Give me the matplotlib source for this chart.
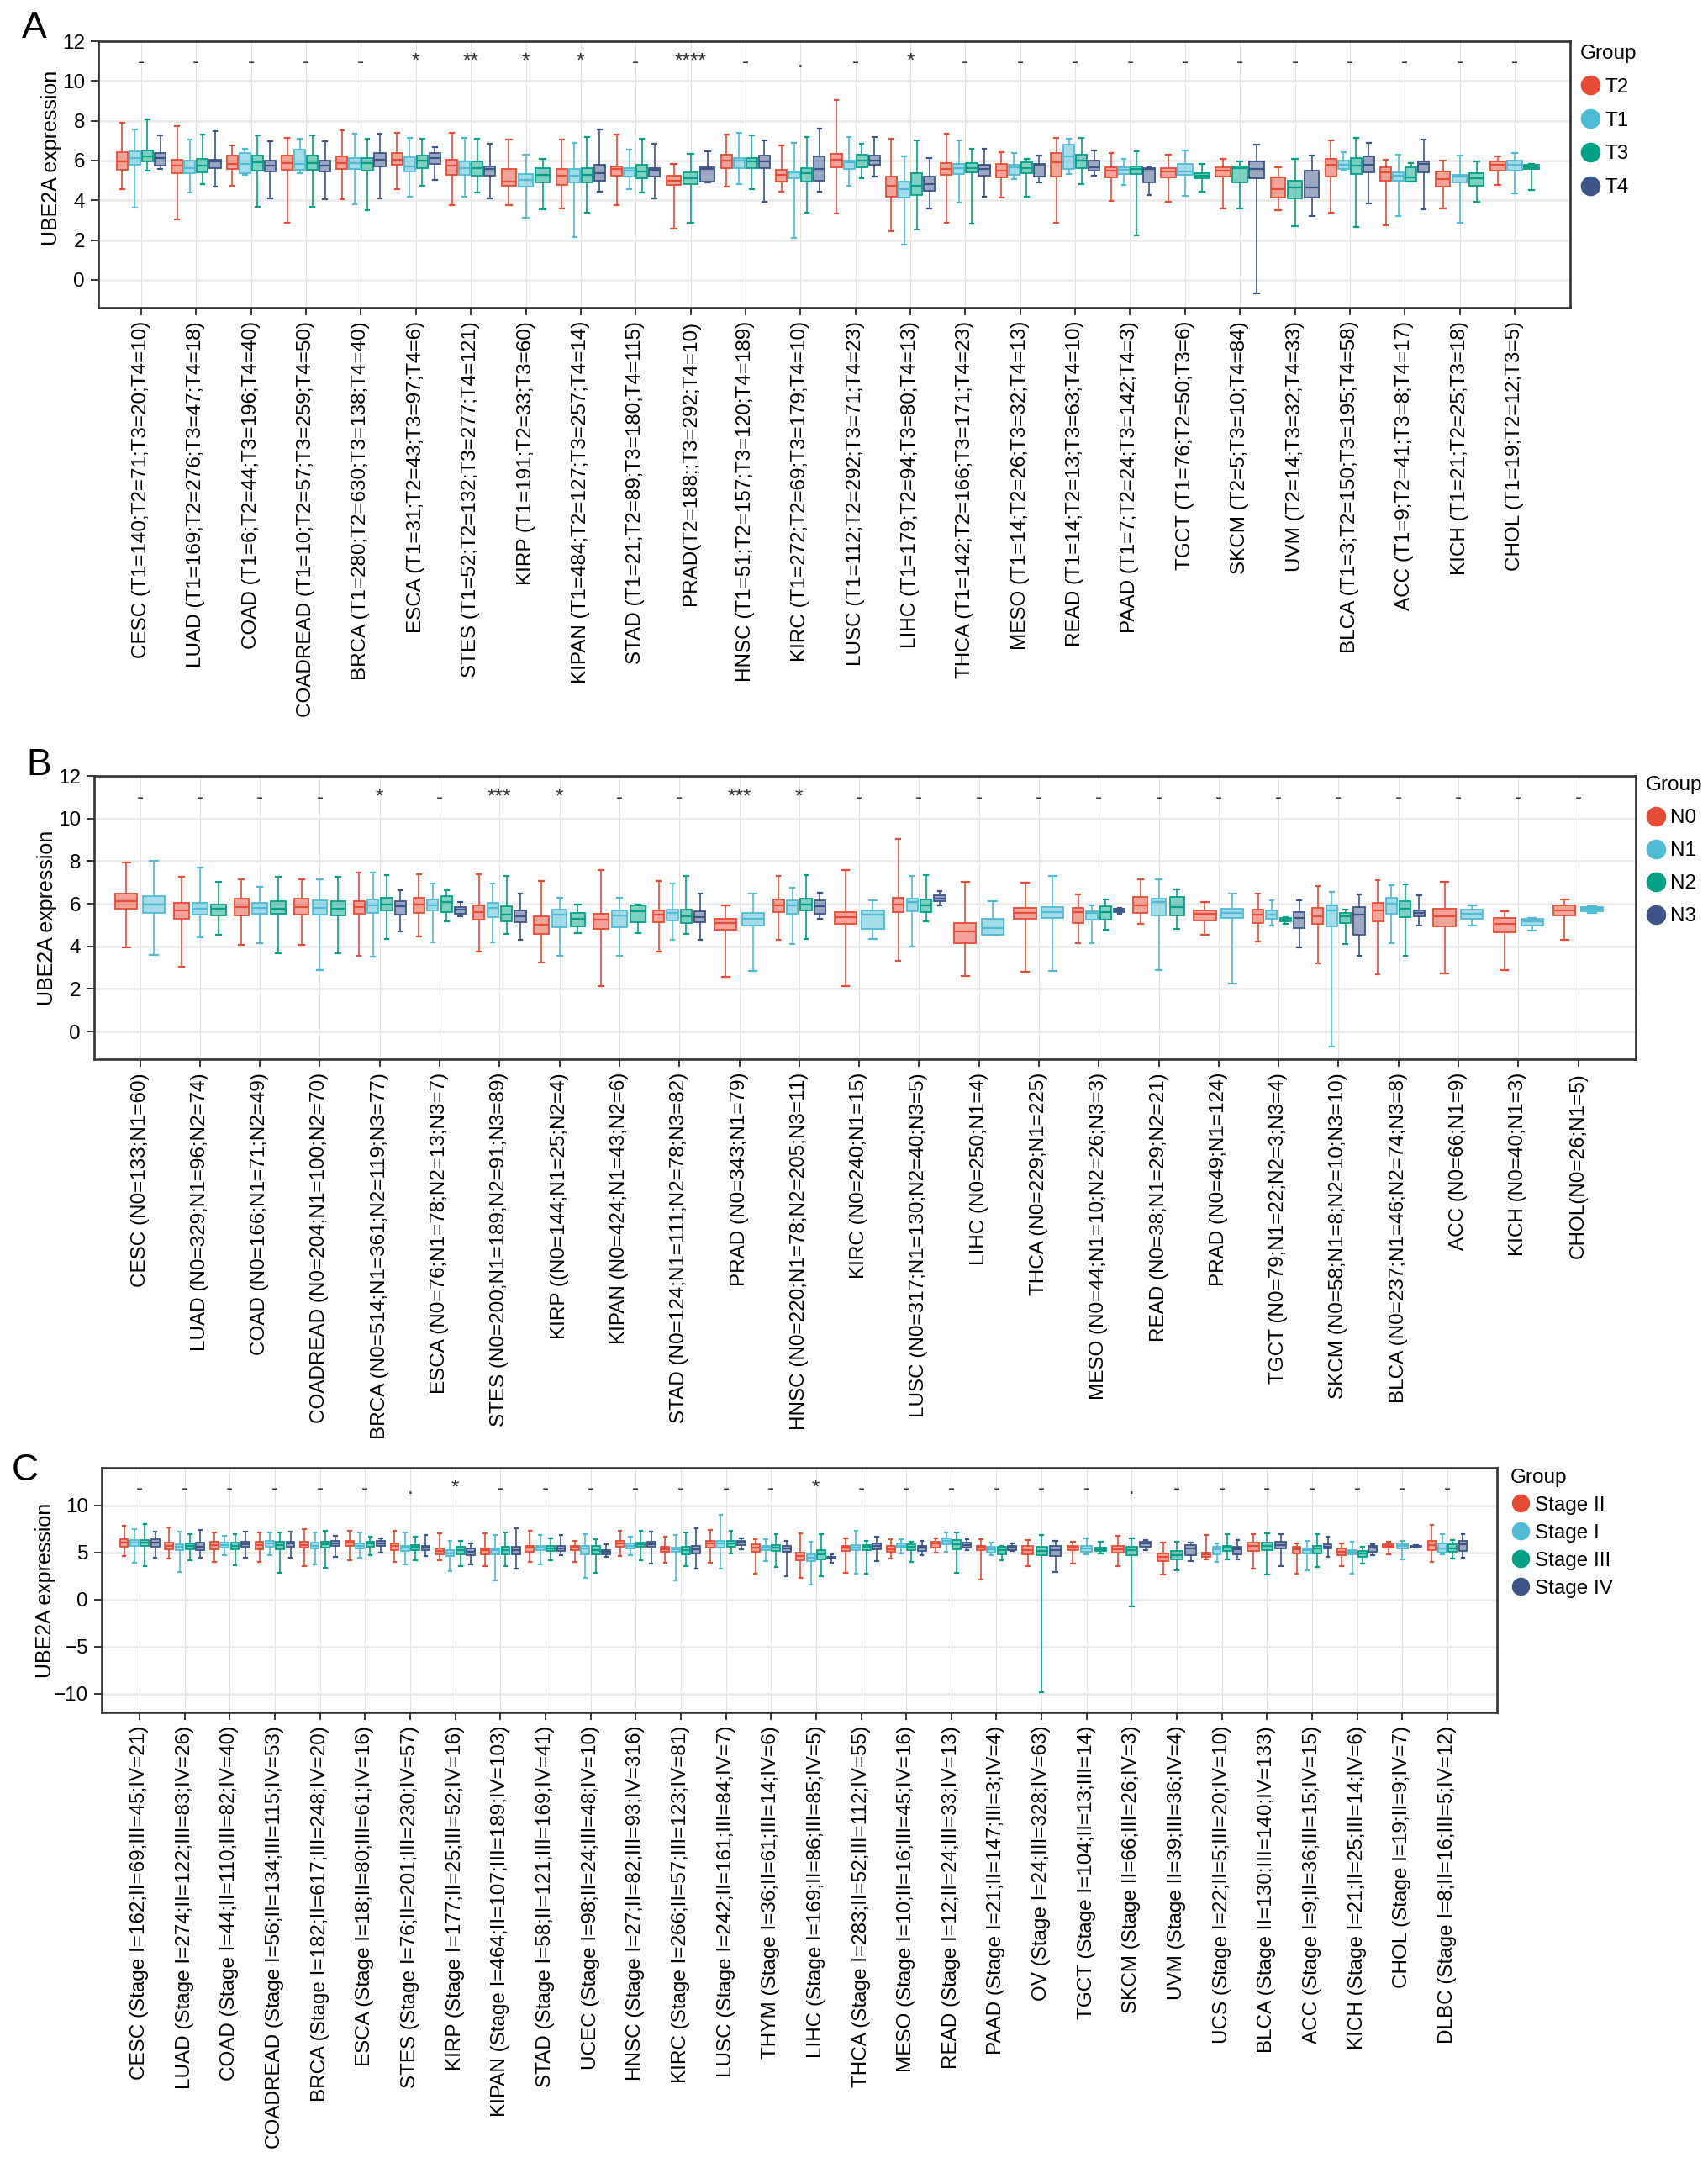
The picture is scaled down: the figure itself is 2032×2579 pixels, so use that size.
import matplotlib
matplotlib.use("Agg")
import matplotlib.pyplot as plt
from matplotlib.lines import Line2D
from matplotlib.colors import to_rgba

plt.rcParams['font.family'] = ['Liberation Sans', 'DejaVu Sans']

W, H = 2032, 2579
RED, LBLUE, GREEN, NAVY = "#E64B35", "#4DBBD5", "#00A087", "#3C5488"

# ---------------- panel A : T stage ----------------
a_labels = ["CESC (T1=140;T2=71;T3=20;T4=10)", "LUAD (T1=169;T2=276;T3=47;T4=18)",
            "COAD (T1=6;T2=44;T3=196;T4=40)", "COADREAD (T1=10;T2=57;T3=259;T4=50)",
            "BRCA (T1=280;T2=630;T3=138;T4=40)", "ESCA (T1=31;T2=43;T3=97;T4=6)",
            "STES (T1=52;T2=132;T3=277;T4=121)", "KIRP (T1=191;T2=33;T3=60)",
            "KIPAN (T1=484;T2=127;T3=257;T4=14)", "STAD (T1=21;T2=89;T3=180;T4=115)",
            "PRAD(T2=188;;T3=292;T4=10)", "HNSC (T1=51;T2=157;T3=120;T4=189)",
            "KIRC (T1=272;T2=69;T3=179;T4=10)", "LUSC (T1=112;T2=292;T3=71;T4=23)",
            "LIHC (T1=179;T2=94;T3=80;T4=13)", "THCA (T1=142;T2=166;T3=171;T4=23)",
            "MESO (T1=14;T2=26;T3=32;T4=13)", "READ (T1=14;T2=13;T3=63;T4=10)",
            "PAAD (T1=7;T2=24;T3=142;T4=3)", "TGCT (T1=76;T2=50;T3=6)",
            "SKCM (T2=5;T3=10;T4=84)", "UVM (T2=14;T3=32;T4=33)",
            "BLCA (T1=3;T2=150;T3=195;T4=58)", "ACC (T1=9;T2=41;T3=8;T4=17)",
            "KICH (T1=21;T2=25;T3=18)", "CHOL (T1=19;T2=12;T3=5)"]
a_order = ["T2", "T1", "T3", "T4"]
a_groups = [a_order] * 7 + [["T2", "T1", "T3"], a_order, a_order, ["T2", "T3", "T4"]] + [a_order] * 8 + \
           [["T2", "T1", "T3"], ["T2", "T3", "T4"], ["T2", "T3", "T4"], a_order, a_order,
            ["T2", "T1", "T3"], ["T2", "T1", "T3"]]
a_sig = ["-", "-", "-", "-", "-", "*", "**", "*", "*", "-", "****", "-", ".",
         "-", "*", "-", "-", "-", "-", "-", "-", "-", "-", "-", "-", "-"]
a_hi = [[7.92, 7.57, 8.05, 7.26], [7.71, 7.06, 7.29, 7.46], [6.75, 6.57, 7.27, 6.99], [7.15, 7.08, 7.27, 6.99],
        [7.50, 7.36, 7.10, 7.36], [7.39, 7.13, 7.10, 6.68], [7.39, 7.13, 7.10, 6.85], [7.06, 6.29, 6.08],
        [7.06, 6.87, 7.17, 7.57], [7.32, 6.54, 7.10, 6.85], [5.84, 6.33, 6.47], [7.32, 7.39, 7.27, 7.01],
        [6.75, 6.87, 7.17, 7.60], [9.05, 7.20, 6.85, 7.17], [7.08, 6.19, 7.01, 6.12], [7.34, 7.03, 6.61, 6.61],
        [6.43, 6.39, 6.08, 6.26], [7.15, 7.09, 7.15, 6.50], [6.39, 6.08, 6.47, 5.67], [6.29, 6.51, 5.81],
        [6.09, 5.94, 6.82], [5.66, 6.09, 6.23], [7.01, 6.40, 7.13, 6.87], [6.05, 6.29, 5.88, 7.06],
        [5.98, 6.26, 5.94], [6.19, 6.36, 5.84]]
a_q3 = [[6.40, 6.47, 6.51, 6.36], [6.02, 5.98, 6.09, 6.02], [6.23, 6.36, 6.23, 5.98], [6.26, 6.54, 6.23, 5.98],
        [6.19, 6.12, 6.12, 6.36], [6.37, 6.15, 6.23, 6.36], [6.05, 5.95, 5.95, 5.70], [5.56, 5.32, 5.60],
        [5.56, 5.56, 5.63, 5.77], [5.70, 5.60, 5.77, 5.63], [5.23, 5.39, 5.67], [6.29, 6.12, 6.12, 6.23],
        [5.53, 5.46, 5.63, 6.22], [6.33, 5.98, 6.29, 6.26], [5.21, 4.95, 5.35, 5.18], [5.87, 5.84, 5.87, 5.77],
        [5.84, 5.80, 5.91, 5.81], [6.36, 6.82, 6.30, 5.98], [5.66, 5.67, 5.70, 5.63], [5.60, 5.81, 5.35],
        [5.66, 5.70, 5.94], [5.16, 4.99, 5.51], [6.09, 5.98, 6.12, 6.19], [5.67, 5.39, 5.67, 5.95],
        [5.46, 5.28, 5.35], [5.94, 5.98, 5.77]]
a_med = [[5.94, 6.12, 6.19, 6.12], [5.73, 5.63, 5.74, 5.95], [5.84, 5.84, 5.91, 5.73], [5.88, 5.84, 5.88, 5.73],
         [5.88, 5.88, 5.88, 6.05], [6.05, 5.70, 5.98, 6.12], [5.73, 5.63, 5.63, 5.56], [4.92, 5.04, 5.30],
         [5.23, 5.23, 5.30, 5.37], [5.56, 5.49, 5.46, 5.54], [4.99, 5.11, 5.56], [5.98, 5.98, 5.94, 5.94],
         [5.30, 5.39, 5.35, 5.56], [6.02, 5.91, 6.01, 5.98], [4.71, 4.57, 4.74, 4.81], [5.59, 5.60, 5.63, 5.56],
         [5.51, 5.67, 5.63, 5.77], [5.91, 6.19, 5.98, 5.66], [5.49, 5.53, 5.56, 5.56], [5.46, 5.46, 5.23],
         [5.49, 5.63, 5.56], [4.57, 4.64, 4.64], [5.80, 5.77, 5.73, 5.80], [5.39, 5.23, 5.16, 5.84],
         [5.06, 5.18, 5.11], [5.77, 5.80, 5.67]]
a_q1 = [[5.53, 5.80, 5.95, 5.73], [5.37, 5.35, 5.39, 5.63], [5.56, 5.35, 5.49, 5.44], [5.53, 5.53, 5.53, 5.44],
        [5.56, 5.59, 5.51, 5.70], [5.80, 5.46, 5.63, 5.84], [5.30, 5.30, 5.23, 5.23], [4.71, 4.67, 4.90],
        [4.78, 4.88, 4.90, 4.99], [5.23, 5.18, 5.12, 5.21], [4.76, 4.81, 4.92], [5.63, 5.63, 5.63, 5.63],
        [4.92, 5.11, 4.92, 4.99], [5.66, 5.56, 5.66, 5.77], [4.19, 4.14, 4.25, 4.46], [5.28, 5.32, 5.39, 5.23],
        [5.14, 5.30, 5.37, 5.18], [5.21, 5.56, 5.60, 5.49], [5.14, 5.32, 5.32, 4.90], [5.16, 5.28, 5.11],
        [5.18, 4.88, 5.09], [4.12, 4.08, 4.15], [5.18, 5.56, 5.32, 5.39], [4.99, 4.99, 4.95, 5.39],
        [4.67, 4.90, 4.71], [5.51, 5.51, 5.56]]
a_lo = [[4.56, 3.64, 5.49, 5.56], [3.05, 4.39, 4.81, 4.67], [4.71, 5.28, 3.66, 4.08], [2.88, 5.35, 3.66, 4.05],
        [4.05, 3.80, 3.52, 4.08], [4.57, 4.18, 4.71, 5.04], [3.77, 4.19, 4.39, 4.08], [3.77, 3.12, 3.55],
        [3.59, 2.14, 3.38, 4.43], [3.77, 4.57, 4.39, 4.08], [2.56, 2.86, 4.88], [4.67, 4.81, 4.56, 3.91],
        [4.42, 2.11, 3.38, 4.43], [3.35, 4.71, 5.11, 5.21], [2.46, 1.76, 2.53, 3.59], [2.86, 3.87, 2.81, 4.18],
        [4.15, 5.06, 4.18, 4.90], [2.88, 5.32, 4.81, 5.23], [3.97, 4.78, 2.25, 4.26], [3.94, 4.22, 4.43],
        [3.59, 3.59, -0.70], [3.52, 2.70, 3.19], [3.38, 5.49, 2.67, 3.83], [2.74, 3.19, 4.92, 3.56],
        [3.59, 2.88, 3.94], [4.78, 4.33, 4.53]]

# ---------------- panel B : N stage ----------------
b_labels = ["CESC (N0=133;N1=60)", "LUAD (N0=329;N1=96;N2=74)", "COAD (N0=166;N1=71;N2=49)",
            "COADREAD (N0=204;N1=100;N2=70)", "BRCA (N0=514;N1=361;N2=119;N3=77)",
            "ESCA (N0=76;N1=78;N2=13;N3=7)", "STES (N0=200;N1=189;N2=91;N3=89)",
            "KIRP ((N0=144;N1=25;N2=4)", "KIPAN (N0=424;N1=43;N2=6)",
            "STAD (N0=124;N1=111;N2=78;N3=82)", "PRAD (N0=343;N1=79)",
            "HNSC (N0=220;N1=78;N2=205;N3=11)", "KIRC (N0=240;N1=15)",
            "LUSC (N0=317;N1=130;N2=40;N3=5)", "LIHC (N0=250;N1=4)", "THCA (N0=229;N1=225)",
            "MESO (N0=44;N1=10;N2=26;N3=3)", "READ (N0=38;N1=29;N2=21)", "PRAD (N0=49;N1=124)",
            "TGCT (N0=79;N1=22;N2=3;N3=4)", "SKCM (N0=58;N1=8;N2=10;N3=10)",
            "BLCA (N0=237;N1=46;N2=74;N3=8)", "ACC (N0=66;N1=9)", "KICH (N0=40;N1=3)",
            "CHOL(N0=26;N1=5)"]
b_order = ["N0", "N1", "N2", "N3"]
b_groups = [b_order[:2], b_order[:3], b_order[:3], b_order[:3], b_order, b_order, b_order,
            b_order[:3], b_order[:3], b_order, b_order[:2], b_order, b_order[:2], b_order,
            b_order[:2], b_order[:2], b_order, b_order[:3], b_order[:2], b_order, b_order,
            b_order, b_order[:2], b_order[:2], b_order[:2]]
b_sig = ["-", "-", "-", "-", "*", "-", "***", "*", "-", "-", "***", "*", "-",
         "-", "-", "-", "-", "-", "-", "-", "-", "-", "-", "-", "-"]
b_hi = [[7.92, 8.01], [7.28, 7.69, 7.02], [7.15, 6.80, 7.26], [7.15, 7.13, 7.26], [7.48, 7.48, 7.35, 6.64],
        [7.39, 6.95, 6.63, 6.07], [7.39, 6.95, 7.32, 6.47], [7.06, 6.27, 5.98], [7.59, 6.27, 5.98],
        [7.06, 6.93, 7.32, 6.47], [5.94, 6.47], [7.30, 6.76, 7.35, 6.51], [7.59, 6.14],
        [9.04, 7.32, 7.35, 6.60], [7.03, 6.10], [6.99, 7.32], [6.43, 5.94, 6.20, 5.81], [7.13, 7.13, 6.69],
        [6.07, 6.47], [6.49, 6.16, 5.37, 6.14], [6.82, 6.57, 5.74, 6.44], [7.10, 6.86, 6.89, 6.38],
        [7.02, 5.94], [5.65, 5.32], [6.20, 5.87]]
b_q3 = [[6.49, 6.36], [6.05, 6.05, 5.98], [6.24, 6.05, 6.11], [6.24, 6.16, 6.11], [6.11, 6.20, 6.27, 6.11],
        [6.27, 6.20, 6.34, 5.84], [5.91, 6.03, 5.87, 5.68], [5.41, 5.72, 5.58], [5.52, 5.70, 5.94],
        [5.70, 5.72, 5.74, 5.64], [5.28, 5.55], [6.18, 6.16, 6.23, 6.14], [5.61, 5.68],
        [6.27, 6.24, 6.20, 6.38], [5.11, 5.28], [5.81, 5.84], [5.81, 5.65, 5.87, 5.77], [6.31, 6.24, 6.30],
        [5.68, 5.77], [5.72, 5.68, 5.35, 5.61], [5.81, 5.91, 5.58, 5.84], [6.05, 6.27, 6.11, 5.70],
        [5.77, 5.74], [5.35, 5.31], [5.94, 5.85]]
b_med = [[6.12, 5.97], [5.68, 5.78, 5.77], [5.84, 5.81, 5.77], [5.85, 5.81, 5.77], [5.84, 5.94, 5.98, 5.90],
         [5.97, 5.94, 6.07, 5.74], [5.61, 5.81, 5.48, 5.41], [5.02, 5.48, 5.28], [5.26, 5.45, 5.64],
         [5.48, 5.55, 5.41, 5.37], [5.08, 5.28], [5.91, 5.94, 5.97, 5.87], [5.37, 5.48],
         [5.97, 6.07, 5.94, 6.24], [4.69, 4.85], [5.57, 5.61], [5.61, 5.55, 5.61, 5.70], [5.94, 6.07, 5.84],
         [5.51, 5.55], [5.48, 5.48, 5.28, 5.35], [5.41, 5.68, 5.41, 5.48], [5.68, 6.01, 5.77, 5.57],
         [5.39, 5.52], [5.04, 5.18], [5.70, 5.77]]
b_q1 = [[5.78, 5.57], [5.31, 5.48, 5.44], [5.44, 5.52, 5.51], [5.48, 5.48, 5.44], [5.52, 5.57, 5.68, 5.48],
        [5.57, 5.68, 5.61, 5.52], [5.26, 5.37, 5.18, 5.15], [4.60, 4.91, 4.95], [4.82, 4.91, 5.15],
        [5.15, 5.22, 5.08, 5.15], [4.78, 4.99], [5.61, 5.52, 5.68, 5.52], [5.04, 4.82],
        [5.61, 5.64, 5.61, 6.11], [4.16, 4.56], [5.31, 5.35], [5.11, 5.24, 5.24, 5.61], [5.57, 5.44, 5.44],
        [5.22, 5.35], [5.11, 5.31, 5.18, 4.85], [5.06, 4.93, 5.08, 4.53], [5.19, 5.52, 5.37, 5.41],
        [4.93, 5.28], [4.65, 4.99], [5.45, 5.64]]
b_lo = [[3.94, 3.61], [3.04, 4.43, 4.53], [4.06, 4.16, 3.66], [4.06, 2.88, 3.66], [3.57, 3.50, 4.33, 4.69],
        [4.47, 4.19, 5.19, 5.39], [3.77, 4.19, 4.60, 4.29], [3.24, 3.54, 4.62], [2.12, 3.54, 4.62],
        [3.77, 4.29, 4.60, 4.29], [2.58, 2.85], [4.29, 4.12, 4.33, 5.31], [2.12, 4.33],
        [3.33, 4.00, 5.19, 5.94], [2.61, 4.53], [2.81, 2.85], [4.16, 4.14, 4.79, 5.52], [5.04, 2.87, 4.82],
        [4.53, 2.25], [4.23, 4.98, 5.04, 3.93], [3.20, -0.71, 4.10, 3.57], [2.69, 4.14, 3.57, 4.99],
        [2.74, 4.98], [2.88, 4.72], [4.32, 5.58]]

# ---------------- panel C : pathologic stage ----------------
c_labels = ["CESC (Stage I=162;II=69;III=45;IV=21)", "LUAD (Stage I=274;II=122;III=83;IV=26)",
            "COAD (Stage I=44;II=110;III=82;IV=40)", "COADREAD (Stage I=56;II=134;III=115;IV=53)",
            "BRCA (Stage I=182;II=617;III=248;IV=20)", "ESCA (Stage I=18;II=80;III=61;IV=16)",
            "STES (Stage I=76;II=201;III=230;IV=57)", "KIRP (Stage I=177;II=25;III=52;IV=16)",
            "KIPAN (Stage I=464;II=107;III=189;IV=103)", "STAD (Stage I=58;II=121;III=169;IV=41)",
            "UCEC (Stage I=98;II=24;III=48;IV=10)", "HNSC (Stage I=27;II=82;III=93;IV=316)",
            "KIRC (Stage I=266;II=57;III=123;IV=81)", "LUSC (Stage I=242;II=161;III=84;IV=7)",
            "THYM (Stage I=36;II=61;III=14;IV=6)", "LIHC (Stage I=169;II=86;III=85;IV=5)",
            "THCA (Stage I=283;II=52;III=112;IV=55)", "MESO (Stage I=10;II=16;III=45;IV=16)",
            "READ (Stage I=12;II=24;III=33;IV=13)", "PAAD (Stage I=21;II=147;III=3;IV=4)",
            "OV (Stage I=24;III=328;IV=63)", "TGCT (Stage I=104;II=13;III=14)",
            "SKCM (Stage II=66;III=26;IV=3)", "UVM (Stage II=39;III=36;IV=4)",
            "UCS (Stage I=22;II=5;III=20;IV=10)", "BLCA (Stage II=130;III=140;IV=133)",
            "ACC (Stage I=9;II=36;III=15;IV=15)", "KICH (Stage I=21;II=25;III=14;IV=6)",
            "CHOL (Stage I=19;II=9;IV=7)", "DLBC (Stage I=8;II=16;III=5;IV=12)"]
c_order = ["Stage II", "Stage I", "Stage III", "Stage IV"]
c_no_i = ["Stage II", "Stage III", "Stage IV"]
c_groups = [c_order] * 20 + [c_no_i, ["Stage II", "Stage I", "Stage III"], c_no_i, c_no_i, c_order,
                             c_no_i, c_order, c_order, ["Stage II", "Stage I", "Stage IV"], c_order]
c_sig = ["-", "-", "-", "-", "-", "-", ".", "*", "-", "-", "-", "-", "-", "-", "-",
         "*", "-", "-", "-", "-", "-", "-", ".", "-", "-", "-", "-", "-", "-", "-"]
c_hi = [[7.87, 7.51, 8.02, 7.22], [7.66, 7.22, 6.92, 7.43], [7.13, 6.77, 6.98, 7.22], [7.13, 7.16, 7.16, 7.22],
        [7.46, 7.16, 7.31, 6.77], [7.31, 7.13, 6.68, 6.47], [7.31, 7.13, 6.68, 6.86], [7.01, 6.26, 6.23, 5.93],
        [7.01, 6.86, 7.13, 7.57], [7.31, 6.83, 6.53, 6.83], [6.26, 6.98, 6.38, 5.87], [7.28, 6.71, 7.31, 7.22],
        [6.71, 6.83, 7.13, 7.57], [7.37, 9.01, 7.31, 6.53], [6.38, 6.41, 6.92, 6.23], [7.01, 6.17, 6.98, 4.82],
        [6.47, 7.28, 6.23, 6.68], [6.38, 6.38, 6.17, 6.23], [6.47, 7.13, 7.13, 6.38], [6.41, 6.02, 5.66, 5.96],
        [6.32, 6.83, 6.23], [6.11, 6.47, 6.11], [6.77, 6.53, 6.32], [6.02, 6.17, 6.02],
        [6.86, 5.96, 6.98, 6.32], [6.98, 7.07, 6.92], [5.96, 6.23, 6.98, 6.68], [5.93, 6.17, 5.57, 5.87],
        [6.17, 6.26, 5.78], [7.96, 6.92, 6.32, 6.98]]
c_q3 = [[6.38, 6.32, 6.32, 6.38], [6.02, 5.87, 5.93, 6.02], [6.17, 6.08, 6.02, 6.11], [6.17, 6.26, 6.17, 6.17],
        [6.11, 6.02, 6.11, 6.23], [6.26, 5.96, 6.17, 6.23], [5.96, 5.72, 5.81, 5.72], [5.42, 5.21, 5.63, 5.42],
        [5.42, 5.42, 5.57, 5.57], [5.66, 5.66, 5.66, 5.66], [5.72, 5.72, 5.66, 5.21], [6.23, 5.93, 6.08, 6.17],
        [5.57, 5.51, 5.57, 5.66], [6.26, 6.26, 6.23, 6.23], [5.87, 5.72, 5.78, 5.66], [4.97, 4.82, 5.27, 4.52],
        [5.66, 5.78, 5.78, 5.96], [5.66, 5.93, 5.87, 5.72], [6.17, 6.53, 6.32, 6.02], [5.66, 5.57, 5.57, 5.72],
        [5.66, 5.57, 5.66], [5.66, 5.66, 5.51], [5.72, 5.57, 6.17], [4.88, 5.12, 5.81],
        [4.97, 5.57, 5.72, 5.57], [6.02, 6.02, 6.11], [5.57, 5.42, 5.72, 5.87], [5.42, 5.21, 5.12, 5.72],
        [5.87, 5.87, 5.72], [6.26, 5.93, 5.87, 6.23]]
c_med = [[6.02, 6.02, 6.02, 6.08], [5.72, 5.57, 5.66, 5.63], [5.78, 5.78, 5.72, 5.87], [5.78, 5.93, 5.78, 5.93],
         [5.81, 5.72, 5.87, 5.96], [6.02, 5.66, 5.93, 5.96], [5.66, 5.51, 5.57, 5.48], [5.12, 4.91, 5.27, 5.03],
         [5.21, 5.21, 5.27, 5.27], [5.48, 5.48, 5.42, 5.42], [5.57, 5.42, 5.27, 5.03], [5.93, 5.66, 5.87, 5.87],
         [5.33, 5.33, 5.27, 5.33], [5.96, 5.96, 5.93, 6.08], [5.51, 5.48, 5.51, 5.42], [4.61, 4.46, 4.82, 4.46],
         [5.48, 5.51, 5.57, 5.66], [5.36, 5.72, 5.57, 5.48], [5.93, 6.23, 5.87, 5.81], [5.48, 5.36, 5.27, 5.48],
         [5.27, 5.12, 5.21], [5.48, 5.42, 5.33], [5.36, 5.21, 5.93], [4.52, 4.73, 5.42],
         [4.82, 5.36, 5.51, 5.33], [5.66, 5.66, 5.78], [5.33, 5.21, 5.42, 5.63], [5.03, 5.03, 4.91, 5.48],
         [5.72, 5.72, 5.63], [5.78, 5.42, 5.42, 5.87]]
c_q1 = [[5.57, 5.72, 5.66, 5.63], [5.33, 5.21, 5.33, 5.21], [5.33, 5.48, 5.36, 5.57], [5.33, 5.57, 5.33, 5.63],
        [5.48, 5.42, 5.48, 5.72], [5.66, 5.42, 5.57, 5.66], [5.27, 5.12, 5.21, 5.21], [4.82, 4.58, 4.82, 4.67],
        [4.76, 4.82, 4.82, 4.82], [5.06, 5.21, 5.12, 5.12], [5.21, 4.82, 4.82, 4.82], [5.57, 5.42, 5.57, 5.57],
        [5.03, 5.03, 4.82, 4.91], [5.51, 5.51, 5.57, 5.78], [5.03, 5.21, 5.18, 5.03], [4.16, 4.07, 4.22, 4.43],
        [5.18, 5.21, 5.21, 5.33], [5.03, 5.48, 5.21, 5.12], [5.48, 5.87, 5.33, 5.51], [5.21, 4.97, 4.82, 5.21],
        [4.76, 4.67, 4.61], [5.21, 5.03, 5.12], [4.97, 4.67, 5.57], [4.07, 4.22, 4.67],
        [4.52, 4.82, 5.18, 4.82], [5.12, 5.27, 5.42], [4.88, 4.91, 4.91, 5.42], [4.67, 4.82, 4.52, 5.03],
        [5.51, 5.42, 5.57], [5.21, 4.97, 5.03, 5.12]]
c_lo = [[4.58, 3.86, 3.53, 4.46], [4.37, 2.96, 4.13, 4.46], [4.01, 4.67, 3.62, 4.43], [4.01, 4.67, 2.81, 4.43],
        [3.53, 3.71, 3.41, 4.52], [4.13, 4.43, 4.67, 5.00], [4.01, 3.71, 4.16, 4.61], [4.16, 3.02, 3.53, 3.71],
        [3.53, 2.07, 3.53, 3.32], [4.01, 3.71, 4.16, 4.67], [4.01, 2.34, 2.87, 4.52], [4.61, 4.73, 4.16, 3.83],
        [3.92, 2.07, 3.56, 3.26], [3.92, 3.26, 4.91, 5.36], [2.72, 4.07, 3.47, 2.49], [2.34, 1.62, 2.43, 3.92],
        [2.81, 2.72, 2.78, 4.07], [4.37, 4.91, 4.01, 4.67], [5.00, 5.03, 2.81, 5.27], [2.13, 4.73, 4.16, 5.12],
        [3.53, -9.9, 2.93], [3.83, 4.82, 4.88], [3.53, -0.7, 5.27], [2.63, 3.08, 4.07],
        [4.22, 4.01, 4.22, 4.22], [3.32, 2.63, 3.53], [2.72, 3.08, 3.47, 4.52], [3.53, 2.78, 3.83, 4.67],
        [4.82, 4.22, 5.51], [4.01, 4.76, 4.37, 4.46]]

a_colors = dict(zip(a_order, [RED, LBLUE, GREEN, NAVY]))
b_colors = dict(zip(b_order, [RED, LBLUE, GREEN, NAVY]))
c_colors = dict(zip(c_order, [RED, LBLUE, GREEN, NAVY]))

FS = 17.5
fig = plt.figure(figsize=(W / 100, H / 100), dpi=100)


def px_axes(l, t, r, b):
    return fig.add_axes([l / W, 1 - b / H, (r - l) / W, (b - t) / H])


def draw_panel(ax, labels, groups, lo, q1, med, q3, hi, colors, wratio):
    for i in range(len(labels)):
        n = len(groups[i])
        step = 0.92 / n
        for k, g in enumerate(groups[i]):
            pos = i + (k - (n - 1) / 2) * step
            c = colors[g]
            st = [dict(whislo=lo[i][k], q1=q1[i][k], med=med[i][k], q3=q3[i][k],
                       whishi=hi[i][k], fliers=[])]
            ax.bxp(st, positions=[pos], widths=step * wratio, capwidths=step * wratio * 0.35,
                   patch_artist=True, showfliers=False, manage_ticks=False,
                   boxprops=dict(facecolor=to_rgba(c, 0.5), edgecolor=c, linewidth=1.3),
                   whiskerprops=dict(color=c, linewidth=1.2),
                   capprops=dict(color=c, linewidth=1.6),
                   medianprops=dict(color=c, linewidth=1.6))
    ax.set_xticks(range(len(labels)))
    ax.set_xticklabels(labels, rotation=90, fontsize=FS)
    ax.set_axisbelow(True)
    ax.grid(axis='y', color='#EBEBEB', lw=2.0)
    ax.grid(axis='x', color='#E2E2E2', lw=0.8)
    ax.tick_params(axis='both', direction='out', length=6.5, width=1.4, labelsize=FS,
                   pad=5, color='#333333')
    for sp in ax.spines.values():
        sp.set_linewidth(1.9)
        sp.set_color('#333333')
    ax.set_ylabel("UBE2A expression", fontsize=FS + 0.5)


def add_sig(ax, sig, base):
    for i, s in enumerate(sig):
        ax.text(i, base, s, ha='center', va='baseline', fontsize=FS, color='#333333')


def add_legend(ax, order, colors, lx, ly, ms, spacing):
    handles = [Line2D([], [], ls='none', marker='o', ms=ms, color=colors[g]) for g in order]
    ax.legend(handles, order, title='Group', loc='upper left',
              bbox_to_anchor=(lx / W, 1 - ly / H), bbox_transform=fig.transFigure,
              frameon=False, fontsize=FS, title_fontsize=FS, handlelength=1.0,
              handletextpad=0.2, labelspacing=spacing, borderpad=0, borderaxespad=0,
              alignment='left')


# panel A
axA = px_axes(117, 49, 1868, 366)
draw_panel(axA, a_labels, a_groups, a_lo, a_q1, a_med, a_q3, a_hi, a_colors, 0.88)
axA.set_xlim(-0.78, 26.01)
axA.set_ylim(-1.4, 12)
axA.set_yticks([0, 2, 4, 6, 8, 10, 12])
axA.yaxis.set_label_coords(-0.0251, 0.5615)
add_sig(axA, a_sig, 10.69)
add_legend(axA, a_order, a_colors, 1880, 53, 16, 0.73)

# panel B
axB = px_axes(112, 923, 1946, 1260)
draw_panel(axB, b_labels, b_groups, b_lo, b_q1, b_med, b_q3, b_hi, b_colors, 0.8)
axB.set_xlim(-0.766, 24.96)
axB.set_ylim(-1.3, 12)
axB.set_yticks([0, 2, 4, 6, 8, 10, 12])
axB.yaxis.set_label_coords(-0.024, 0.5)
add_sig(axB, b_sig, 10.74)
add_legend(axB, b_order, b_colors, 1958, 923, 16, 0.7)

# panel C
axC = px_axes(121, 1746, 1781, 2037)
draw_panel(axC, c_labels, c_groups, c_lo, c_q1, c_med, c_q3, c_hi, c_colors, 0.8)
axC.set_xlim(-0.84, 30.1)
axC.set_ylim(-12, 14)
axC.set_yticks([-10, -5, 0, 5, 10])
axC.yaxis.set_label_coords(-0.0331, 0.5)
add_sig(axC, c_sig, 11.24)
add_legend(axC, c_order, c_colors, 1797, 1747, 14.5, 0.45)

# panel letters
for letter, x, y in [("A", 26, 45), ("B", 31, 922), ("C", 14, 1761)]:
    fig.text(x / W, 1 - y / H, letter, fontsize=32, ha='left', va='baseline')

fig.savefig("out.png", dpi=100)
